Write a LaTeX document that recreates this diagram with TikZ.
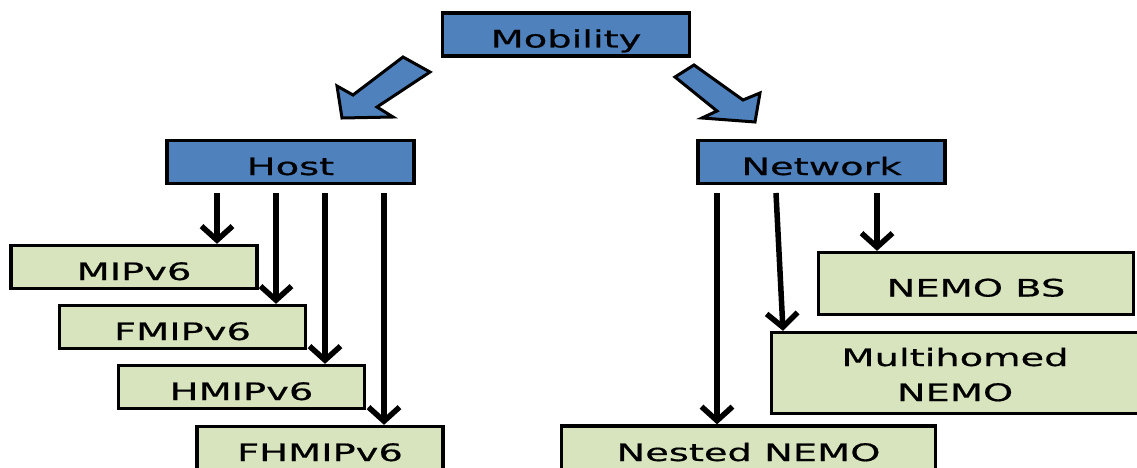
\documentclass[tikz,border=0pt]{standalone}
\usepackage{fontspec}
\newfontfamily\boxfont[FakeStretch=1.6,FakeBold=0.6]{DejaVu Sans}
\usetikzlibrary{arrows.meta}
\definecolor{hblue}{HTML}{4F81BD}
\definecolor{lgreen}{HTML}{D7E4BD}
\begin{document}
\begin{tikzpicture}[x=1pt,y=-1pt,
  boxbase/.style={draw=black, line width=3.3pt, rectangle, inner sep=0pt,
    font=\boxfont\fontsize{24}{35}\selectfont, align=center,
    text height=26pt, text depth=0pt},
  topbox/.style={boxbase, fill=hblue, minimum width=247pt, minimum height=43pt},
  leafbox/.style={boxbase, fill=lgreen},
  arr/.style={line width=5.5pt, -{Straight Barb[length=14pt,width=31pt]}},
  blockarrow/.style={fill=hblue, draw=black, line width=3pt, line join=miter}]
\useasboundingbox (0,0) rectangle (1137,468);
\clip (0,0) rectangle (1137,468);
% top level
\node[topbox] (mob) at (566,34.5) {Mobility};
\node[topbox] (host) at (290.5,162) {Host};
\node[topbox] (net) at (821.5,162) {Network};
% host leaves
\node[leafbox, minimum width=246pt, minimum height=43pt] (mip) at (134,267) {MIPv6};
\node[leafbox, minimum width=246pt, minimum height=43pt] (fmip) at (182.5,327) {FMIPv6};
\node[leafbox, minimum width=246pt, minimum height=43pt] (hmip) at (241.5,387) {HMIPv6};
\node[leafbox, minimum width=246pt, minimum height=43pt] (fhmip) at (320,448) {FHMIPv6};
% network leaves
\node[leafbox, minimum width=315pt, minimum height=62pt] (nemobs) at (976,283.5) {NEMO BS};
\node[leafbox, minimum width=367pt, minimum height=81pt, text height=56pt] (multi) at (955,373) {Multihomed\\NEMO};
\node[leafbox, minimum width=374pt, minimum height=44pt] (nested) at (748.5,448) {Nested NEMO};
% block arrows
\path[blockarrow] (403,57) -- (353,95) -- (337,86) -- (342,118) -- (393,117) -- (377,107) -- (430,72) -- cycle;
\path[blockarrow] (694,65) -- (743,100) -- (760,93) -- (755,122) -- (702,118) -- (717,111) -- (675,77) -- cycle;
% host arrows
\coordinate (h1) at (217,193);
\coordinate (h2) at (276,193);
\coordinate (h3) at (325,193);
\coordinate (h4) at (384,193);
\draw[arr] (h1) -- (h1 |- mip.north);
\draw[arr] (h2) -- (h2 |- fmip.north);
\draw[arr] (h3) -- (h3 |- hmip.north);
\draw[arr] (h4) -- (h4 |- fhmip.north);
% network arrows
\coordinate (n1) at (717,193);
\coordinate (n2) at (776,193);
\coordinate (n2e) at (783,193);
\coordinate (n3) at (877,193);
\draw[arr] (n1) -- (n1 |- nested.north);
\draw[arr] (n2) -- (n2e |- multi.north);
\draw[arr] (n3) -- (n3 |- nemobs.north);
\end{tikzpicture}
\end{document}
